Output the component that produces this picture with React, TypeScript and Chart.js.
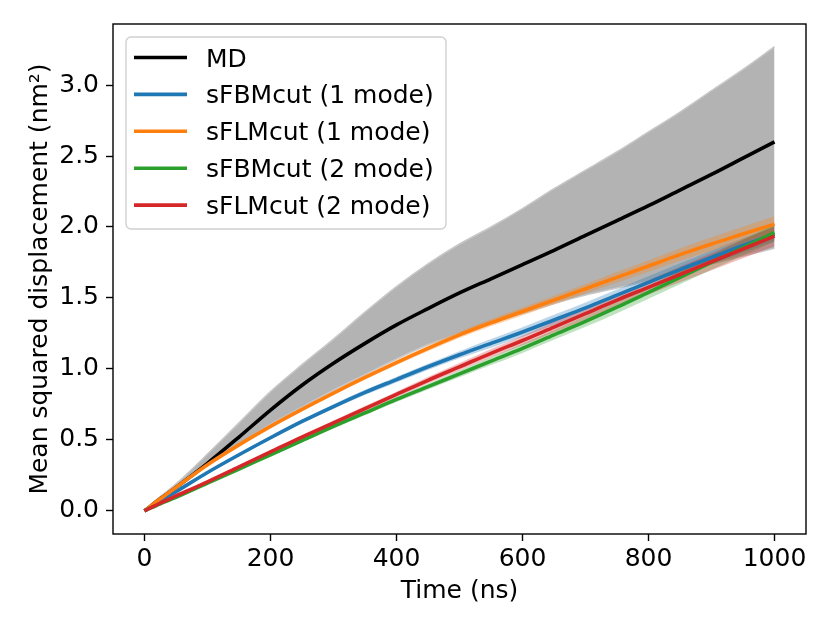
import { useEffect, useRef } from "react";
import { Chart, registerables } from "chart.js";

Chart.register(...registerables);

// time axis (ns)
const times = [0, 25, 50, 100, 150, 200, 250, 300, 350, 400, 450, 500, 550, 600, 650, 700, 750, 800, 850, 900, 950, 1000];

// MD mean and its shaded range
const mdMean = [0, 0.085, 0.165, 0.335, 0.52, 0.71, 0.885, 1.04, 1.18, 1.31, 1.425, 1.535, 1.635, 1.735, 1.835, 1.94, 2.045, 2.15, 2.26, 2.37, 2.485, 2.6];
const mdUpper = [0, 0.1, 0.19, 0.4, 0.62, 0.84, 1.03, 1.21, 1.4, 1.58, 1.74, 1.88, 2.0, 2.13, 2.27, 2.4, 2.53, 2.67, 2.81, 2.96, 3.11, 3.27];
const mdLower = [0, 0.08, 0.16, 0.32, 0.47, 0.61, 0.73, 0.85, 0.96, 1.07, 1.17, 1.25, 1.32, 1.39, 1.46, 1.52, 1.57, 1.62, 1.68, 1.74, 1.795, 1.85];

// model curves
const fbm1 = [0, 0.07, 0.135, 0.27, 0.395, 0.515, 0.63, 0.735, 0.835, 0.925, 1.015, 1.1, 1.18, 1.26, 1.345, 1.43, 1.52, 1.61, 1.7, 1.785, 1.87, 1.95];
const flm1 = [0, 0.085, 0.165, 0.325, 0.465, 0.595, 0.715, 0.83, 0.94, 1.045, 1.145, 1.24, 1.325, 1.405, 1.485, 1.565, 1.645, 1.725, 1.805, 1.88, 1.95, 2.02];
const fbm2 = [0, 0.05, 0.095, 0.195, 0.295, 0.395, 0.495, 0.595, 0.69, 0.785, 0.875, 0.965, 1.055, 1.145, 1.24, 1.335, 1.435, 1.54, 1.645, 1.75, 1.855, 1.96];
const flm2 = [0, 0.055, 0.105, 0.205, 0.31, 0.415, 0.52, 0.62, 0.72, 0.82, 0.92, 1.015, 1.11, 1.2, 1.295, 1.39, 1.485, 1.575, 1.665, 1.755, 1.845, 1.935];

// half widths of the model bands
const fbm1Spread = [0, 0.003, 0.005, 0.008, 0.01, 0.012, 0.014, 0.016, 0.018, 0.02, 0.022, 0.025, 0.03, 0.034, 0.036, 0.038, 0.04, 0.042, 0.045, 0.048, 0.05, 0.052];
const flm1Spread = [0, 0.002, 0.004, 0.006, 0.008, 0.01, 0.012, 0.014, 0.016, 0.018, 0.02, 0.022, 0.025, 0.028, 0.031, 0.034, 0.037, 0.04, 0.043, 0.047, 0.051, 0.055];
const fbm2Spread = [0, 0.002, 0.004, 0.006, 0.008, 0.01, 0.012, 0.014, 0.016, 0.018, 0.02, 0.024, 0.028, 0.032, 0.035, 0.038, 0.042, 0.045, 0.048, 0.052, 0.056, 0.06];
const flm2Spread = [0, 0.003, 0.005, 0.008, 0.01, 0.012, 0.014, 0.016, 0.018, 0.02, 0.023, 0.026, 0.03, 0.034, 0.038, 0.042, 0.046, 0.05, 0.055, 0.06, 0.065, 0.07];

const xTicks = [0, 200, 400, 600, 800, 1000];
const yTicks = [0, 0.5, 1, 1.5, 2, 2.5, 3];

const seriesNames = ["MD", "sFBMcut (1 mode)", "sFLMcut (1 mode)", "sFBMcut (2 mode)", "sFLMcut (2 mode)"];
const seriesColors = ["#000000", "#1f77b4", "#ff7f0e", "#2ca02c", "#d62728"];
const bandColors = ["#b3b3b3", "rgba(31,119,180,0.3)", "rgba(255,127,14,0.3)", "rgba(44,160,44,0.3)", "rgba(214,39,40,0.3)"];

const FONT = "'DejaVu Sans', sans-serif";

const pts = (ys: number[]) => times.map((t, i) => ({ x: t, y: ys[i] }));

const frame = {
    id: "frame",
    afterDatasetsDraw(chart: any) {
        const { ctx, chartArea } = chart;
        ctx.save();
        ctx.strokeStyle = "#000";
        ctx.lineWidth = 1.4;
        ctx.strokeRect(chartArea.left, chartArea.top, chartArea.right - chartArea.left, chartArea.bottom - chartArea.top);
        ctx.restore();
    },
};

const legendBox = {
    id: "legendBox",
    afterDraw(chart: any) {
        const { ctx, chartArea } = chart;
        const x = chartArea.left + 13;
        const y = chartArea.top + 13;
        ctx.save();
        ctx.beginPath();
        ctx.roundRect(x, y, 320, 192, 5);
        ctx.fillStyle = "rgba(255,255,255,0.8)";
        ctx.fill();
        ctx.strokeStyle = "#d0d0d0";
        ctx.lineWidth = 1.4;
        ctx.stroke();
        ctx.font = "25px " + FONT;
        ctx.textBaseline = "alphabetic";
        seriesNames.forEach((name, i) => {
            const cy = y + 20.5 + i * 36.9;
            ctx.beginPath();
            ctx.moveTo(x + 8, cy);
            ctx.lineTo(x + 61, cy);
            ctx.strokeStyle = seriesColors[i];
            ctx.lineWidth = 3.6;
            ctx.stroke();
            ctx.fillStyle = "#000";
            ctx.fillText(name, x + 80, cy + 9);
        });
        ctx.restore();
    },
};

const MsdChart = () => {
    const chartRef = useRef<HTMLCanvasElement | null>(null);
    const chartInstanceRef = useRef<Chart | null>(null);

    useEffect(() => {
        if (!chartRef.current) return;
        const ctx = chartRef.current.getContext("2d");
        if (!ctx) return;
        if (chartInstanceRef.current) chartInstanceRef.current.destroy();

        const models = [
            { mean: fbm1, spread: fbm1Spread },
            { mean: flm1, spread: flm1Spread },
            { mean: fbm2, spread: fbm2Spread },
            { mean: flm2, spread: flm2Spread },
        ];

        // bottom to top
        const layers: any[] = [];
        layers.push({
            data: pts(mdUpper),
            borderColor: "#c8c8c8",
            borderWidth: 1.5,
            backgroundColor: bandColors[0],
            fill: "+1",
        });
        layers.push({ data: pts(mdLower), borderColor: "#c8c8c8", borderWidth: 1.5, fill: false });
        models.forEach((m, k) => {
            layers.push({
                data: pts(m.mean.map((v, i) => v + m.spread[i])),
                borderColor: "rgba(0,0,0,0)",
                borderWidth: 0,
                backgroundColor: bandColors[k + 1],
                fill: "+1",
            });
            layers.push({
                data: pts(m.mean.map((v, i) => v - m.spread[i])),
                borderColor: "rgba(0,0,0,0)",
                borderWidth: 0,
                fill: false,
            });
        });
        [mdMean, fbm1, flm1, fbm2, flm2].forEach((ys, k) => {
            layers.push({
                label: seriesNames[k],
                data: pts(ys),
                borderColor: seriesColors[k],
                borderWidth: 3.6,
                fill: false,
            });
        });
        layers.forEach((d, i) => {
            d.order = layers.length - i;
            d.pointRadius = 0;
            d.cubicInterpolationMode = "monotone";
        });

        chartInstanceRef.current = new Chart(ctx, {
            type: "line",
            data: { datasets: layers },
            options: {
                animation: false,
                responsive: true,
                maintainAspectRatio: false,
                layout: { padding: { top: 24, right: 24, left: 0, bottom: 0 } },
                plugins: {
                    legend: { display: false },
                    tooltip: { enabled: false },
                },
                scales: {
                    x: {
                        type: "linear",
                        min: -50,
                        max: 1050,
                        afterBuildTicks: (s: any) => {
                            s.ticks = xTicks.map((v) => ({ value: v }));
                        },
                        afterFit: (s: any) => {
                            s.height = 89;
                        },
                        grid: { display: true, drawOnChartArea: false, drawTicks: true, tickLength: 7, tickWidth: 1.4, tickColor: "#000" },
                        border: { display: false },
                        ticks: {
                            color: "#000",
                            font: { family: FONT, size: 25 },
                            padding: 3,
                            maxRotation: 0,
                            autoSkip: false,
                            callback: (v: any) => String(v),
                        },
                        title: {
                            display: true,
                            text: "Time (ns)",
                            color: "#000",
                            font: { family: FONT, size: 25 },
                            padding: { top: 0, bottom: 17 },
                        },
                    },
                    y: {
                        type: "linear",
                        min: -0.163,
                        max: 3.43,
                        afterBuildTicks: (s: any) => {
                            s.ticks = yTicks.map((v) => ({ value: v }));
                        },
                        afterFit: (s: any) => {
                            s.width = 113;
                        },
                        grid: { display: true, drawOnChartArea: false, drawTicks: true, tickLength: 7, tickWidth: 1.4, tickColor: "#000" },
                        border: { display: false },
                        ticks: {
                            color: "#000",
                            font: { family: FONT, size: 25 },
                            padding: 7,
                            callback: (v: any) => Number(v).toFixed(1),
                        },
                        title: {
                            display: true,
                            text: "Mean squared displacement (nm²)",
                            color: "#000",
                            font: { family: FONT, size: 25 },
                            padding: { top: 25, bottom: 0 },
                        },
                    },
                },
            },
            plugins: [frame, legendBox],
        });

        return () => {
            if (chartInstanceRef.current) {
                chartInstanceRef.current.destroy();
                chartInstanceRef.current = null;
            }
        };
    }, []);

    return (
        <div style={{ position: "absolute", left: 0, top: 0, width: 830, height: 623 }}>
            <canvas ref={chartRef} />
        </div>
    );
};

export default function App() {
    return <MsdChart />;
}
